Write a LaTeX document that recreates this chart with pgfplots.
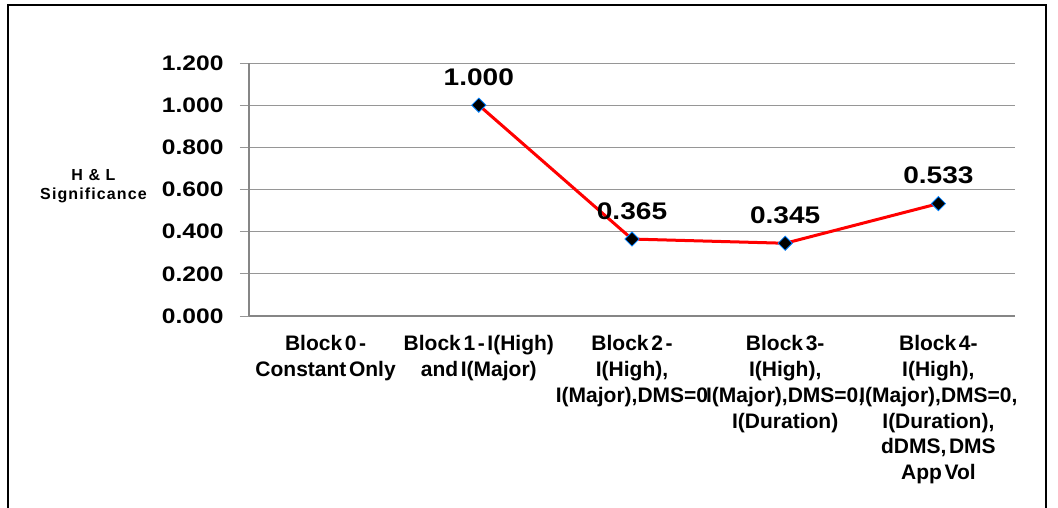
\documentclass[border=0pt]{standalone}
\usepackage{fontspec}
\setmainfont{Liberation Sans}
\usepackage{pgfplots}
\pgfplotsset{compat=1.18}
\newfontfamily\xfont{Liberation Sans}[WordSpace=0.45]
\newfontfamily\yfont{Liberation Sans}[FakeStretch=1.17]
\newfontfamily\lfont{Liberation Sans}[LetterSpace=7]
\definecolor{axgray}{RGB}{134,134,134}
\definecolor{gridgray}{RGB}{150,150,150}
\begin{document}
\begin{tikzpicture}[x=1pt,y=1pt]
\useasboundingbox (0,0) rectangle (1058,507);
\draw[line width=2pt] (8,-5) -- (8,502) -- (1046,502) -- (1046,-5);
\begin{axis}[
  at={(249pt,191pt)}, anchor=south west,
  width=766pt, height=253pt, scale only axis,
  xmin=-0.5, xmax=4.5, ymin=0, ymax=1.2,
  axis x line*=bottom, axis y line*=left,
  axis line style={draw=axgray, line width=1.4pt},
  ytick={0,0.2,0.4,0.6,0.8,1.0,1.2},
  yticklabels={0.000,0.200,0.400,0.600,0.800,1.000,1.200},
  ymajorgrids, grid style={draw=gridgray, line width=1pt},
  tick align=outside,
  ytick style={draw=gridgray, line width=1pt},
  major tick length=9pt,
  yticklabel style={font=\yfont\bfseries\fontsize{21}{21}\selectfont, anchor=east, xshift=-13pt},
  xtick={0,1,2,3,4},
  xticklabels={{Block 0 -\\Constant Only},{Block 1 - I(High)\\and I(Major)},{Block 2 -\\I(High),\\I(Major),DMS=0},{Block 3-\\I(High),\\I(Major),DMS=0,\\I(Duration)},{Block 4-\\I(High),\\I(Major),DMS=0,\\I(Duration),\\dDMS, DMS\\App Vol}},
  xtick style={draw=none},
  xticklabel style={align=center, anchor=north, yshift=-7pt, font=\xfont\bfseries\fontsize{21}{25.8}\selectfont},
  extra x ticks={-0.5,0.5,1.5,2.5,3.5,4.5},
  extra x tick labels={},
  extra x tick style={grid=none, major tick length=6pt, tick style={draw=axgray, line width=1pt}},
  ylabel={H \& L\\Significance},
  ylabel style={rotate=-90, align=center, at={(axis description cs:-0.203,0.515)}, anchor=center, font=\lfont\bfseries\fontsize{16}{19}\selectfont},
  clip=false,
]
\addplot[red, line width=3pt, mark=square*, mark size=5pt,
  mark options={rotate=45, fill=black, draw=blue!50!cyan, line width=0.8pt},
  nodes near coords, point meta=explicit symbolic,
  every node near coord/.append style={anchor=center, yshift=28pt, text=black, font=\yfont\bfseries\fontsize{24}{24}\selectfont}]
  coordinates {(1,1.000)[1.000] (2,0.365)[0.365] (3,0.345)[0.345] (4,0.533)[0.533]};
\end{axis}
\end{tikzpicture}
\end{document}
